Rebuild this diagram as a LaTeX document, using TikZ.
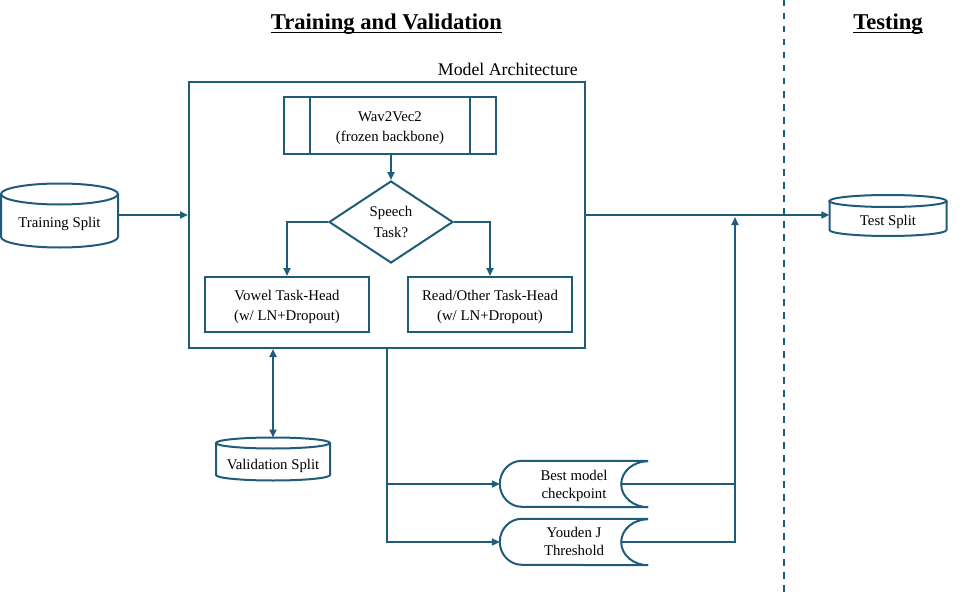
\documentclass[tikz,border=0pt]{standalone}
\usepackage{fontspec}
\setmainfont{Liberation Serif}
\usetikzlibrary{arrows.meta,shapes.geometric,calc}
\definecolor{ink}{HTML}{1F5C7A}
\newcommand\dbcyl[5]{% name, half width, y radius, top offset, bottom offset
  \draw[shapeline] ($(#1.center)+(-#2,#4)$) -- ($(#1.center)+(-#2,-#5)$)
    arc[start angle=180,end angle=360,x radius=#2,y radius=#3] -- ($(#1.center)+(#2,#4)$);
  \draw[shapeline] ($(#1.center)+(0,#4)$) ellipse[x radius=#2,y radius=#3];
}
\def\storedh{46}
\newcommand\stored[1]{% name
  \draw[shapeline] (#1.north east) -- ($(#1.north west)+(22,0)$)
    arc[start angle=90,end angle=270,x radius=22,y radius=0.5*\storedh]
    -- (#1.south east)
    arc[start angle=270,end angle=90,x radius=27,y radius=0.5*\storedh];
}
% two centred lines; first baseline #1 above the node centre
\newcommand\twoline[3]{\raisebox{#1}[0pt][0pt]{\begin{tabular}[t]{@{}c@{}}#2\\#3\end{tabular}}}
\begin{document}
\begin{tikzpicture}[x=1pt,y=1pt,
  shapeline/.style={draw=ink, line width=2pt},
  conn/.style={draw=ink, line width=2pt},
  arr/.style={conn, -{Triangle[length=8pt,width=7pt]}},
  darr/.style={conn, {Triangle[length=8pt,width=7pt]}-{Triangle[length=8pt,width=7pt]}},
  txt/.style={font=\fontsize{14.8}{#1}\selectfont, text=black, align=center},
  txt/.default=18,
  box/.style={shapeline, rectangle, inner sep=0pt},
  plain/.style={rectangle, inner sep=0pt},
  title/.style={anchor=base, inner sep=0pt, font=\fontsize{22.6}{26}\selectfont\bfseries},
]
\useasboundingbox (0,0) rectangle (975,-594);

% titles
\node[title] (t1) at (386.5,-30) {Training and Validation};
\draw[black, line width=1.3pt] ($(t1.base west)+(0,-2.6)$) -- ($(t1.base east)+(0,-2.6)$);
\node[title] (t2) at (888,-30) {Testing};
\draw[black, line width=1.3pt] ($(t2.base west)+(0,-2.6)$) -- ($(t2.base east)+(0,-2.6)$);

% divider
\coordinate (divtop) at (784,0);
\coordinate (divbot) at (784,-594);
\draw[ink, line width=1.8pt, dash pattern=on 6.5pt off 6.5pt] (divtop) -- (divbot);

% model architecture
\node[box, minimum width=396, minimum height=266] (model) at (387,-215) {};
\node[anchor=base east, inner sep=0pt, font=\fontsize{17.8}{20}\selectfont] (mlabel) at (578,-75) {Model Architecture};

\node[box, txt=20, minimum width=212, minimum height=57] (w2v) at (390,-125.5) {\twoline{4.3pt}{Wav2Vec2}{(frozen backbone)}};
\draw[shapeline] ($(w2v.north west)+(27,0)$) -- ($(w2v.south west)+(27,0)$);
\draw[shapeline] ($(w2v.north east)+(-27,0)$) -- ($(w2v.south east)+(-27,0)$);

\node[diamond, shapeline, inner sep=0pt, aspect=1.5, minimum width=124, minimum height=82,
      txt=21] (dia) at (391,-222) {\twoline{5.5pt}{Speech}{Task?}};

\node[box, txt=20, minimum width=164, minimum height=55] (vowel) at (287,-304.5) {\twoline{4.5pt}{Vowel Task-Head}{(w/ LN+Dropout)}};
\node[box, txt=20, minimum width=164, minimum height=55] (read) at (490,-304.5) {\twoline{4.5pt}{Read/Other Task-Head}{(w/ LN+Dropout)}};

\draw[arr] (w2v.south -| dia.north) -- (dia.north);
\draw[arr] (dia.west) -| (vowel.north);
\draw[arr] (dia.east) -| (read.north);

% data splits
\node[plain, txt, minimum width=117] (train) at (59.5,-224) {Training Split};
\dbcyl{train}{58.5}{10.5}{30}{13}
\node[plain, txt, minimum width=117] (test) at (888,-222) {Test Split};
\dbcyl{test}{58.5}{6}{21}{8}
\node[plain, txt, minimum width=114] (val) at (273,-466) {Validation Split};
\dbcyl{val}{57}{5.5}{23}{9}
\coordinate (valtop) at ($(val.center)+(0,28.5)$);

\draw[arr] (train.east |- model.west) -- (model.west);
\draw[arr] (model.east) -- (model.east -| test.west);
\draw[darr] (valtop |- model.south) -- (valtop);

% outputs
\node[plain, txt=18, minimum width=148, minimum height=46] (best) at (574,-484) {\twoline{3.5pt}{Best model}{checkpoint}};
\stored{best}
\node[plain, txt=18, minimum width=148, minimum height=46] (youden) at (574,-542) {\twoline{4.5pt}{Youden J}{Threshold}};
\stored{youden}

\draw[arr] (model.south) |- (best.west);
\draw[arr] (model.south) |- (youden.west);

\coordinate (bestout) at ($(best.east)+(-27,0)$);
\coordinate (youdenout) at ($(youden.east)+(-27,0)$);
\coordinate (join) at (735,-217);
\draw[conn] (bestout) -- (bestout -| join);
\draw[arr] (youdenout) -| (join);
\end{tikzpicture}
\end{document}
